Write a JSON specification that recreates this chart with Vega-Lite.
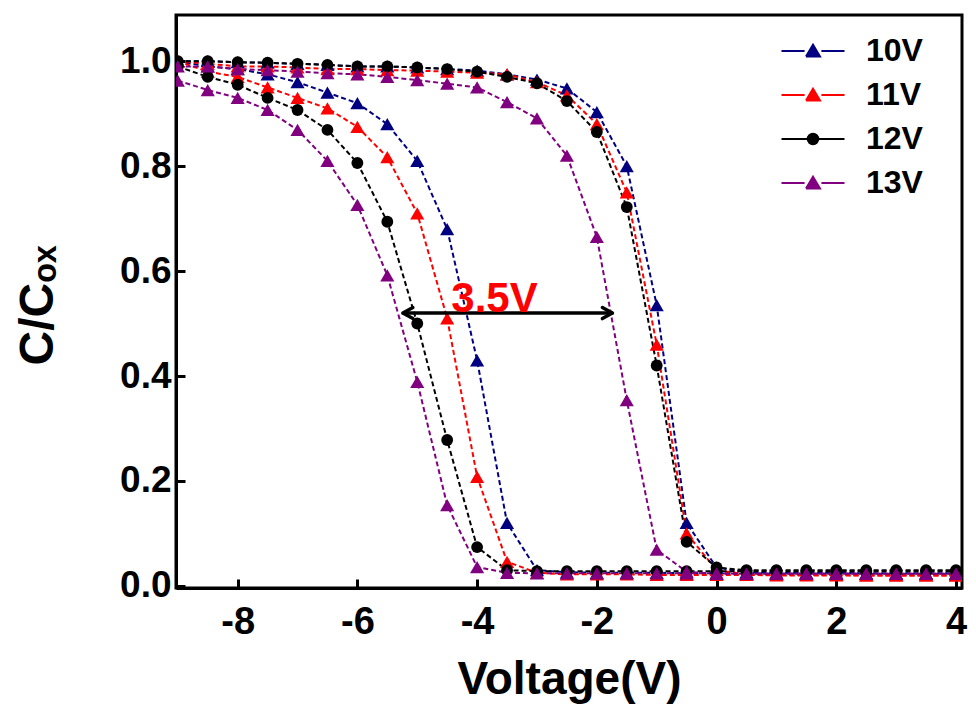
{
  "$schema": "https://vega.github.io/schema/vega-lite/v6.json",
  "width": 786,
  "height": 573,
  "autosize": {"type": "none"},
  "padding": {"left": 176, "top": 15, "right": 14, "bottom": 122},
  "background": "white",
  "config": {
    "font": "Liberation Sans",
    "view": {"stroke": "black", "strokeWidth": 3},
    "axis": {
      "grid": false,
      "domainColor": "black",
      "domainWidth": 3,
      "tickColor": "black",
      "tickWidth": 3,
      "tickSize": -9,
      "labelFont": "Liberation Sans",
      "labelFontWeight": "bold",
      "labelColor": "black",
      "titleFont": "Liberation Sans",
      "titleFontWeight": "bold",
      "titleColor": "black"
    },
    "legend": {
      "orient": "none",
      "legendX": 621,
      "legendY": 20,
      "padding": 0,
      "symbolOffset": 0,
      "labelFont": "Liberation Sans",
      "labelFontSize": 32,
      "labelFontWeight": "bold",
      "labelColor": "black",
      "labelOffset": 37,
      "rowPadding": 12,
      "symbolSize": 196,
      "symbolStrokeWidth": 2,
      "symbolOpacity": 1
    }
  },
  "datasets": {
    "cv": [
      {"s":"10V","v":-9,"L":1.0,"R":1.0},
      {"s":"10V","v":-8.5,"L":0.99,"R":1.0},
      {"s":"10V","v":-8,"L":0.985,"R":0.998},
      {"s":"10V","v":-7.5,"L":0.975,"R":0.997},
      {"s":"10V","v":-7,"L":0.96,"R":0.995},
      {"s":"10V","v":-6.5,"L":0.94,"R":0.993},
      {"s":"10V","v":-6,"L":0.92,"R":0.99},
      {"s":"10V","v":-5.5,"L":0.88,"R":0.99},
      {"s":"10V","v":-5,"L":0.81,"R":0.988},
      {"s":"10V","v":-4.5,"L":0.68,"R":0.985},
      {"s":"10V","v":-4,"L":0.43,"R":0.982},
      {"s":"10V","v":-3.5,"L":0.12,"R":0.975},
      {"s":"10V","v":-3,"L":0.03,"R":0.965},
      {"s":"10V","v":-2.5,"L":0.026,"R":0.948},
      {"s":"10V","v":-2,"L":0.025,"R":0.903},
      {"s":"10V","v":-1.5,"L":0.025,"R":0.80},
      {"s":"10V","v":-1,"L":0.025,"R":0.535},
      {"s":"10V","v":-0.5,"L":0.024,"R":0.12},
      {"s":"10V","v":0,"L":0.024,"R":0.035},
      {"s":"10V","v":0.5,"L":0.024,"R":0.026},
      {"s":"10V","v":1,"L":0.023,"R":0.025},
      {"s":"10V","v":1.5,"L":0.023,"R":0.025},
      {"s":"10V","v":2,"L":0.023,"R":0.025},
      {"s":"10V","v":2.5,"L":0.023,"R":0.024},
      {"s":"10V","v":3,"L":0.022,"R":0.024},
      {"s":"10V","v":3.5,"L":0.022,"R":0.024},
      {"s":"10V","v":4,"L":0.022,"R":0.024},
      {"s":"11V","v":-9,"L":1.0,"R":1.0},
      {"s":"11V","v":-8.5,"L":0.98,"R":0.995},
      {"s":"11V","v":-8,"L":0.97,"R":0.99},
      {"s":"11V","v":-7.5,"L":0.95,"R":0.99},
      {"s":"11V","v":-7,"L":0.93,"R":0.988},
      {"s":"11V","v":-6.5,"L":0.91,"R":0.985},
      {"s":"11V","v":-6,"L":0.875,"R":0.985},
      {"s":"11V","v":-5.5,"L":0.817,"R":0.983},
      {"s":"11V","v":-5,"L":0.71,"R":0.982},
      {"s":"11V","v":-4.5,"L":0.51,"R":0.98},
      {"s":"11V","v":-4,"L":0.208,"R":0.978},
      {"s":"11V","v":-3.5,"L":0.046,"R":0.975},
      {"s":"11V","v":-3,"L":0.025,"R":0.96},
      {"s":"11V","v":-2.5,"L":0.022,"R":0.935},
      {"s":"11V","v":-2,"L":0.022,"R":0.88},
      {"s":"11V","v":-1.5,"L":0.022,"R":0.75},
      {"s":"11V","v":-1,"L":0.021,"R":0.46},
      {"s":"11V","v":-0.5,"L":0.021,"R":0.10},
      {"s":"11V","v":0,"L":0.021,"R":0.03},
      {"s":"11V","v":0.5,"L":0.021,"R":0.022},
      {"s":"11V","v":1,"L":0.02,"R":0.021},
      {"s":"11V","v":1.5,"L":0.02,"R":0.021},
      {"s":"11V","v":2,"L":0.02,"R":0.021},
      {"s":"11V","v":2.5,"L":0.02,"R":0.02},
      {"s":"11V","v":3,"L":0.02,"R":0.02},
      {"s":"11V","v":3.5,"L":0.02,"R":0.02},
      {"s":"11V","v":4,"L":0.02,"R":0.02},
      {"s":"12V","v":-9,"L":0.99,"R":1.0},
      {"s":"12V","v":-8.5,"L":0.97,"R":1.0},
      {"s":"12V","v":-8,"L":0.955,"R":0.998},
      {"s":"12V","v":-7.5,"L":0.93,"R":0.997},
      {"s":"12V","v":-7,"L":0.907,"R":0.995},
      {"s":"12V","v":-6.5,"L":0.869,"R":0.993},
      {"s":"12V","v":-6,"L":0.806,"R":0.99},
      {"s":"12V","v":-5.5,"L":0.694,"R":0.99},
      {"s":"12V","v":-5,"L":0.50,"R":0.988},
      {"s":"12V","v":-4.5,"L":0.278,"R":0.985},
      {"s":"12V","v":-4,"L":0.074,"R":0.98},
      {"s":"12V","v":-3.5,"L":0.03,"R":0.97},
      {"s":"12V","v":-3,"L":0.028,"R":0.958},
      {"s":"12V","v":-2.5,"L":0.028,"R":0.924},
      {"s":"12V","v":-2,"L":0.028,"R":0.865},
      {"s":"12V","v":-1.5,"L":0.028,"R":0.722},
      {"s":"12V","v":-1,"L":0.028,"R":0.42},
      {"s":"12V","v":-0.5,"L":0.028,"R":0.084},
      {"s":"12V","v":0,"L":0.028,"R":0.035},
      {"s":"12V","v":0.5,"L":0.028,"R":0.03},
      {"s":"12V","v":1,"L":0.028,"R":0.03},
      {"s":"12V","v":1.5,"L":0.028,"R":0.03},
      {"s":"12V","v":2,"L":0.028,"R":0.03},
      {"s":"12V","v":2.5,"L":0.028,"R":0.03},
      {"s":"12V","v":3,"L":0.028,"R":0.03},
      {"s":"12V","v":3.5,"L":0.028,"R":0.03},
      {"s":"12V","v":4,"L":0.028,"R":0.03},
      {"s":"13V","v":-9,"L":0.963,"R":0.99},
      {"s":"13V","v":-8.5,"L":0.945,"R":0.99},
      {"s":"13V","v":-8,"L":0.93,"R":0.985},
      {"s":"13V","v":-7.5,"L":0.907,"R":0.983},
      {"s":"13V","v":-7,"L":0.869,"R":0.98},
      {"s":"13V","v":-6.5,"L":0.81,"R":0.977},
      {"s":"13V","v":-6,"L":0.726,"R":0.975},
      {"s":"13V","v":-5.5,"L":0.592,"R":0.97},
      {"s":"13V","v":-5,"L":0.389,"R":0.964},
      {"s":"13V","v":-4.5,"L":0.154,"R":0.957},
      {"s":"13V","v":-4,"L":0.036,"R":0.95},
      {"s":"13V","v":-3.5,"L":0.025,"R":0.922},
      {"s":"13V","v":-3,"L":0.024,"R":0.891},
      {"s":"13V","v":-2.5,"L":0.024,"R":0.82},
      {"s":"13V","v":-2,"L":0.024,"R":0.665},
      {"s":"13V","v":-1.5,"L":0.024,"R":0.354},
      {"s":"13V","v":-1,"L":0.024,"R":0.069},
      {"s":"13V","v":-0.5,"L":0.024,"R":0.027},
      {"s":"13V","v":0,"L":0.024,"R":0.023},
      {"s":"13V","v":0.5,"L":0.023,"R":0.023},
      {"s":"13V","v":1,"L":0.023,"R":0.023},
      {"s":"13V","v":1.5,"L":0.023,"R":0.023},
      {"s":"13V","v":2,"L":0.023,"R":0.023},
      {"s":"13V","v":2.5,"L":0.023,"R":0.023},
      {"s":"13V","v":3,"L":0.023,"R":0.023},
      {"s":"13V","v":3.5,"L":0.023,"R":0.023},
      {"s":"13V","v":4,"L":0.023,"R":0.023}
    ],
    "arrow": [
      {"x1": -5.24, "x2": -1.74, "y": 0.52}
    ],
    "heads": [
      {"x": -5.24, "y": 0.52, "side": "L"},
      {"x": -1.74, "y": 0.52, "side": "R"}
    ],
    "note": [
      {"x": -3.71, "y": 0.522, "t": "3.5V"}
    ]
  },
  "layer": [
    {
      "data": {"name": "cv"},
      "transform": [{"fold": ["L", "R"], "as": ["b", "c"]}],
      "mark": {"type": "line", "strokeWidth": 2, "strokeDash": [5, 3], "opacity": 1, "clip": true},
      "encoding": {
        "x": {
          "field": "v", "type": "quantitative",
          "scale": {"domain": [-9.03, 4.1], "nice": false, "zero": false},
          "axis": {
            "values": [-8, -6, -4, -2, 0, 2, 4],
            "labelExpr": "'' + datum.value",
            "labelFontSize": 38,
            "labelPadding": 24,
            "title": "Voltage(V)",
            "titleFontSize": 46,
            "titlePadding": 16
          }
        },
        "y": {
          "field": "c", "type": "quantitative",
          "scale": {"domain": [-0.004, 1.088], "nice": false, "zero": false},
          "axis": {
            "values": [0, 0.2, 0.4, 0.6, 0.8, 1.0],
            "format": ".1f",
            "labelFontSize": 37,
            "labelPadding": 14,
            "title": "C/Cₒₓ",
            "titleFontSize": 48,
            "titleX": -124,
            "titleY": 290,
            "titleBaseline": "alphabetic",
            "titleAngle": -90
          }
        },
        "color": {
          "field": "s", "type": "nominal",
          "scale": {"domain": ["10V", "11V", "12V", "13V"], "range": ["#000080", "#ff0000", "#000000", "#800080"]},
          "legend": {
            "title": null,
            "symbolDash": [100, 0],
            "encode": {
              "symbols": {
                "update": {
                  "shape": {"signal": "datum.value === '12V' ? 'M-4.5,0H-0.8M0.8,0H4.5M-0.75,0A0.75,0.75,0,1,0,0.75,0A0.75,0.75,0,1,0,-0.75,0Z' : 'M-4.5,0H-1.2M1.2,0H4.5M-1,0.8L0,-0.9L1,0.8Z'"},
                  "fill": {"signal": "scale('color', datum.value)"},
                  "stroke": {"signal": "scale('color', datum.value)"},
                  "strokeWidth": {"value": 2},
                  "strokeDash": {"value": [100, 0]},
                  "opacity": {"value": 1}
                }
              }
            }
          }
        },
        "detail": {"field": "b", "type": "nominal"},
        "order": {"field": "v", "type": "quantitative"}
      }
    },
    {
      "data": {"name": "cv"},
      "transform": [{"fold": ["L", "R"], "as": ["b", "c"]}, {"filter": "datum.s === '10V' || datum.s === '11V'"}],
      "mark": {"type": "point", "shape": "triangle-up", "size": 200, "filled": true, "opacity": 1, "clip": true},
      "encoding": {
        "x": {"field": "v", "type": "quantitative"},
        "y": {"field": "c", "type": "quantitative"},
        "color": {"field": "s", "type": "nominal"}
      }
    },
    {
      "data": {"name": "cv"},
      "transform": [{"fold": ["L", "R"], "as": ["b", "c"]}, {"filter": "datum.s === '12V'"}],
      "mark": {"type": "point", "shape": "circle", "size": 140, "filled": true, "opacity": 1, "clip": true},
      "encoding": {
        "x": {"field": "v", "type": "quantitative"},
        "y": {"field": "c", "type": "quantitative"},
        "color": {"field": "s", "type": "nominal"}
      }
    },
    {
      "data": {"name": "cv"},
      "transform": [{"fold": ["L", "R"], "as": ["b", "c"]}, {"filter": "datum.s === '13V'"}],
      "mark": {"type": "point", "shape": "triangle-up", "size": 200, "filled": true, "opacity": 1, "clip": true},
      "encoding": {
        "x": {"field": "v", "type": "quantitative"},
        "y": {"field": "c", "type": "quantitative"},
        "color": {"field": "s", "type": "nominal"}
      }
    },
    {
      "data": {"name": "arrow"},
      "mark": {"type": "rule", "color": "black", "strokeWidth": 3.5},
      "encoding": {
        "x": {"field": "x1", "type": "quantitative"},
        "x2": {"field": "x2"},
        "y": {"field": "y", "type": "quantitative"}
      }
    },
    {
      "data": {"name": "heads"},
      "transform": [{"filter": "datum.side === 'L'"}],
      "mark": {"type": "point", "shape": "M0,0L2,-1.1M0,0L2,1.1", "size": 100, "filled": false, "stroke": "black", "strokeWidth": 3.5, "opacity": 1, "strokeCap": "round"},
      "encoding": {
        "x": {"field": "x", "type": "quantitative"},
        "y": {"field": "y", "type": "quantitative"}
      }
    },
    {
      "data": {"name": "heads"},
      "transform": [{"filter": "datum.side === 'R'"}],
      "mark": {"type": "point", "shape": "M0,0L-2,-1.1M0,0L-2,1.1", "size": 100, "filled": false, "stroke": "black", "strokeWidth": 3.5, "opacity": 1, "strokeCap": "round"},
      "encoding": {
        "x": {"field": "x", "type": "quantitative"},
        "y": {"field": "y", "type": "quantitative"}
      }
    },
    {
      "data": {"name": "note"},
      "mark": {"type": "text", "color": "#ff0000", "font": "Liberation Sans", "fontWeight": "bold", "fontSize": 42, "baseline": "alphabetic", "align": "center"},
      "encoding": {
        "x": {"field": "x", "type": "quantitative"},
        "y": {"field": "y", "type": "quantitative"},
        "text": {"field": "t"}
      }
    }
  ]
}
